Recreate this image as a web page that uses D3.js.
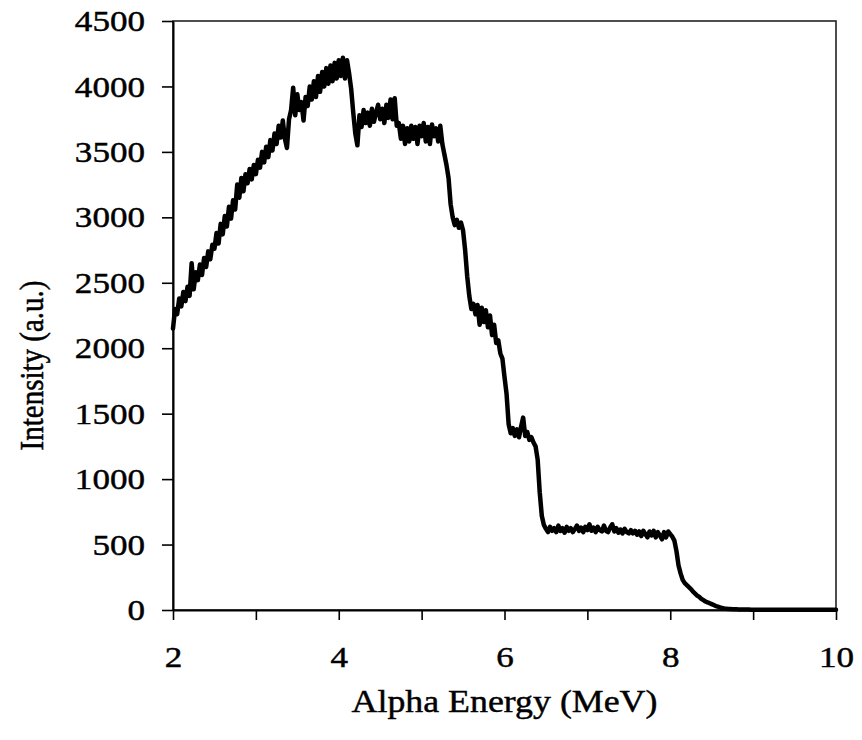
<!DOCTYPE html>
<html>
<head>
<meta charset="utf-8">
<script src="https://cdn.jsdelivr.net/npm/d3@7"></script>
<style>
  html, body { margin: 0; padding: 0; background: #fff; }
  text { font-family: "Liberation Serif", "Times New Roman", serif; fill: #000; stroke: #000; stroke-width: 0.45px; }
</style>
</head>
<body>
<div id="chart"></div>
<script>
// alpha spectrum, one value per 0.025 MeV channel starting at 2.0 MeV
const energyStart = 2.0;
const energyStep = 0.025;
const intensity = [
  // 2.0 - 2.475
  2150, 2300, 2260, 2380, 2320, 2430, 2360, 2470, 2400, 2650, 2450, 2580, 2520, 2640, 2560, 2690, 2620, 2740, 2680, 2790,
  // 2.5 - 2.975
  2760, 2880, 2800, 2950, 2870, 3010, 2930, 3080, 2990, 3130, 3060, 3250, 3150, 3300, 3200, 3330, 3260, 3370, 3290, 3400,
  // 3.0 - 3.475
  3330, 3440, 3380, 3500, 3420, 3540, 3460, 3590, 3510, 3640, 3560, 3700, 3610, 3740, 3600, 3530, 3750, 3820, 3990, 3780,
  // 3.5 - 3.975
  3940, 3820, 3880, 3740, 3920, 3850, 4000, 3900, 4040, 3920, 4080, 3960, 4110, 4000, 4140, 4020, 4160, 4040, 4180, 4060,
  // 4.0 - 4.475
  4200, 4080, 4220, 4060, 4200, 4100, 3980, 3800, 3640, 3550, 3780, 3690, 3820, 3720, 3800, 3700, 3830, 3730, 3800, 3860,
  // 4.5 - 4.975
  3750, 3830, 3720, 3860, 3760, 3900, 3750, 3910, 3700, 3720, 3600, 3700, 3560, 3680, 3580, 3700, 3600, 3690, 3560, 3700,
  // 5.0 - 5.475
  3620, 3720, 3580, 3690, 3560, 3710, 3620, 3680, 3580, 3700, 3560, 3480, 3400, 3300, 3100, 3000, 2940, 2980, 2920, 2960,
  // 5.5 - 5.975
  2900, 2750, 2550, 2400, 2300, 2340, 2260, 2330, 2180, 2310, 2200, 2290, 2160, 2250, 2100, 2180, 2040, 2060, 1960, 1920,
  // 6.0 - 6.475
  1780, 1650, 1420, 1350, 1390, 1330, 1380, 1320, 1400, 1470, 1330, 1360, 1300, 1320, 1280, 1250, 1150, 900, 720, 650,
  // 6.5 - 6.975
  620, 595, 635, 605, 625, 595, 645, 605, 625, 590, 635, 605, 625, 595, 620, 645, 605, 630, 595, 635,
  // 7.0 - 7.475
  610, 655, 605, 630, 595, 635, 610, 600, 645, 605, 595, 630, 655, 600, 625, 590, 615, 585, 620, 595,
  // 7.5 - 7.975
  585, 610, 585, 605, 575, 600, 565, 605, 580, 555, 600, 570, 605, 555, 595, 570, 540, 595, 555, 600,
  // 8.0 - 8.475
  580, 560, 530, 450, 340, 280, 230, 205, 190, 175, 160, 140, 125, 110, 100, 85, 75, 65, 58, 52,
  // 8.5 - 8.975
  45, 38, 30, 25, 20, 15, 12, 10, 8, 7, 6, 5, 5, 4, 4, 3, 3, 3, 3, 2,
  // 9.0 - 9.475
  2, 2, 2, 2, 2, 2, 2, 2, 2, 2, 2, 2, 2, 2, 2, 2, 2, 2, 2, 2,
  // 9.5 - 10.0
  2, 2, 2, 2, 2, 2, 2, 2, 2, 2, 2, 2, 2, 2, 2, 2, 2, 2, 2, 2, 2
];

const xTicks = [2, 3, 4, 5, 6, 7, 8, 9, 10];
const xTickLabels = [2, 4, 6, 8, 10];
const yTicks = [0, 500, 1000, 1500, 2000, 2500, 3000, 3500, 4000, 4500];

const width = 862, height = 740;
const margin = {top: 21, right: 26, bottom: 130, left: 173};
const plotW = width - margin.left - margin.right;
const plotH = height - margin.top - margin.bottom;
const stretch = 1.17;   // labels are set a bit wide

const points = intensity.map((v, i) => ({e: energyStart + i * energyStep, v: v}));

const svg = d3.select("#chart").append("svg")
    .attr("width", width)
    .attr("height", height);

const g = svg.append("g")
    .attr("transform", `translate(${margin.left}, ${margin.top})`);

const x = d3.scaleLinear().domain([2, 10]).range([0, plotW]);
const y = d3.scaleLinear().domain([0, 4500]).range([plotH, 0]);

// frame
g.append("rect")
    .attr("x", 0).attr("y", 0)
    .attr("width", plotW).attr("height", plotH)
    .attr("fill", "none")
    .attr("stroke", "#222")
    .attr("stroke-width", 1.6);

const xAxis = d3.axisBottom(x)
    .tickValues(xTicks)
    .tickSize(10)
    .tickSizeOuter(0)
    .tickPadding(26)
    .tickFormat(d => xTickLabels.includes(d) ? d : "");

const xg = g.append("g")
    .attr("transform", `translate(0, ${plotH})`)
    .call(xAxis);
xg.select(".domain").attr("stroke", "#000").attr("stroke-width", 2);
xg.selectAll(".tick line").attr("stroke", "#000").attr("stroke-width", 1.6);
xg.selectAll(".tick text")
    .attr("font-size", "30px")
    .attr("transform", `scale(${stretch}, 1)`);

const yAxis = d3.axisLeft(y)
    .tickValues(yTicks)
    .tickSize(11)
    .tickSizeOuter(0)
    .tickPadding(0)
    .tickFormat(d3.format("d"));

const yg = g.append("g").call(yAxis);
yg.select(".domain").attr("stroke", "#000").attr("stroke-width", 2);
yg.selectAll(".tick line").attr("stroke", "#000").attr("stroke-width", 1.6);
yg.selectAll(".tick text")
    .attr("font-size", "30px")
    .attr("x", 0)
    .attr("transform", `translate(-28, 0) scale(${stretch}, 1)`);

// spectrum trace
const line = d3.line()
    .x(d => x(d.e))
    .y(d => y(d.v));

g.append("path")
    .datum(points)
    .attr("d", line)
    .attr("fill", "none")
    .attr("stroke", "#000")
    .attr("stroke-width", 4.5)
    .attr("stroke-linejoin", "round")
    .attr("stroke-linecap", "round");

// axis titles
svg.append("text")
    .attr("transform", `translate(${margin.left + plotW / 2}, 712) scale(1.12, 1)`)
    .attr("text-anchor", "middle")
    .attr("font-size", "32px")
    .text("Alpha Energy (MeV)");

svg.append("text")
    .attr("transform", `translate(43, ${margin.top + plotH / 2 + 50}) rotate(-90) scale(1, ${stretch})`)
    .attr("text-anchor", "middle")
    .attr("font-size", "29px")
    .text("Intensity (a.u.)");
</script>
</body>
</html>
